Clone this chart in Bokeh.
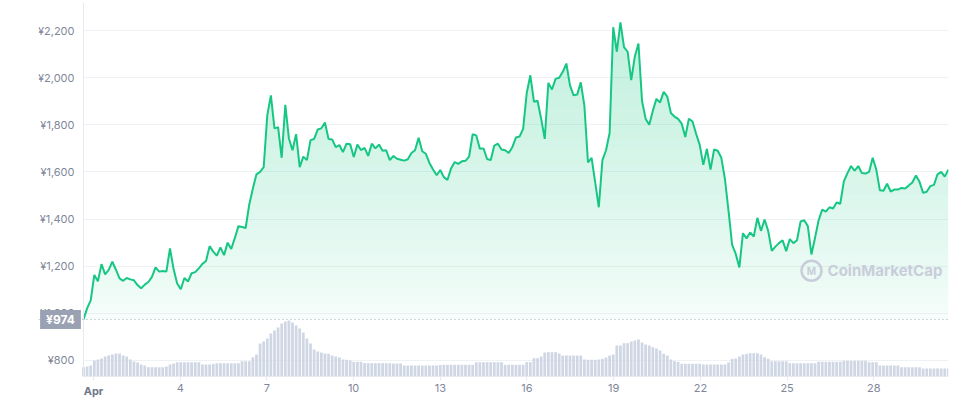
import numpy as np
from bokeh.plotting import figure
from bokeh.models import Range1d, FixedTicker, Span, Label, LinearAxis, BoxAnnotation
from bokeh.embed import file_html
from bokeh.resources import INLINE

# ---- data ----
# price in JPY, sampled roughly every 3 hours from Mar 31 ~16:00 to Apr 30 ~14:00
price = [
    974, 1021, 1055, 1163, 1136, 1209, 1165, 1184, 1219, 1185,
    1148, 1138, 1150, 1144, 1140, 1120, 1106, 1122, 1133, 1155,
    1195, 1177, 1180, 1177, 1275, 1188, 1127, 1102, 1150, 1135,
    1170, 1175, 1191, 1210, 1222, 1285, 1262, 1245, 1280, 1247,
    1300, 1273, 1320, 1370, 1366, 1362, 1462, 1530, 1590, 1600,
    1620, 1840, 1925, 1785, 1790, 1660, 1885, 1742, 1692, 1760,
    1620, 1665, 1650, 1735, 1740, 1780, 1785, 1810, 1740, 1738,
    1705, 1714, 1684, 1720, 1718, 1663, 1716, 1693, 1702, 1668,
    1720, 1700, 1716, 1690, 1692, 1650, 1668, 1656, 1652, 1648,
    1654, 1680, 1692, 1745, 1688, 1677, 1638, 1610, 1586, 1608,
    1578, 1566, 1615, 1642, 1634, 1645, 1647, 1665, 1760, 1755,
    1698, 1700, 1655, 1650, 1712, 1720, 1695, 1692, 1680, 1705,
    1746, 1750, 1783, 1935, 2010, 1898, 1902, 1826, 1740, 1978,
    1950, 1995, 2000, 2025, 2060, 1967, 1925, 1928, 1980, 1880,
    1640, 1660, 1556, 1450, 1650, 1692, 1765, 2214, 2110, 2235,
    2130, 2110, 1990, 2090, 2145, 1900, 1825, 1800, 1860, 1910,
    1895, 1940, 1920, 1850, 1835, 1825, 1805, 1748, 1826, 1814,
    1762, 1715, 1630, 1698, 1610, 1695, 1690, 1660, 1570, 1435,
    1290, 1252, 1195, 1340, 1318, 1343, 1326, 1405, 1350, 1398,
    1350, 1265, 1283, 1298, 1310, 1264, 1315, 1298, 1310, 1390,
    1395, 1370, 1250, 1320, 1395, 1440, 1432, 1450, 1445, 1470,
    1465, 1560, 1595, 1625, 1605, 1625, 1595, 1593, 1600, 1660,
    1610, 1522, 1520, 1550, 1517, 1525, 1525, 1532, 1530, 1542,
    1555, 1585, 1558, 1511, 1516, 1540, 1545, 1590, 1600, 1580,
    1610,
]
# 24h volume (arbitrary units), same timestamps
volume = [
    93, 100, 110, 160, 170, 180, 200, 210, 220, 230,
    230, 210, 200, 170, 150, 140, 120, 110, 93, 93,
    93, 93, 93, 100, 120, 130, 143, 143, 143, 143,
    143, 143, 143, 120, 120, 120, 125, 133, 133, 133,
    133, 133, 133, 133, 153, 153, 153, 193, 220, 330,
    350, 380, 430, 460, 490, 530, 550, 560, 540, 510,
    480, 440, 380, 330, 270, 250, 240, 230, 227, 210,
    200, 190, 170, 167, 160, 147, 147, 147, 133, 133,
    133, 133, 133, 133, 133, 133, 130, 130, 130, 110,
    110, 110, 110, 110, 110, 110, 110, 110, 110, 115,
    117, 117, 117, 117, 117, 117, 117, 117, 117, 143,
    143, 143, 143, 143, 143, 143, 143, 117, 117, 117,
    117, 117, 117, 143, 143, 183, 183, 200, 240, 243,
    243, 243, 230, 210, 210, 210, 210, 210, 210, 170,
    167, 167, 167, 170, 177, 190, 210, 220, 310, 310,
    333, 333, 350, 360, 370, 340, 320, 310, 293, 280,
    260, 227, 210, 170, 153, 145, 127, 127, 127, 127,
    127, 127, 120, 120, 120, 120, 120, 120, 120, 140,
    177, 180, 200, 220, 225, 233, 233, 233, 220, 193,
    177, 153, 153, 153, 153, 153, 133, 133, 133, 133,
    133, 133, 133, 133, 147, 147, 147, 147, 147, 147,
    147, 157, 157, 157, 157, 157, 157, 157, 143, 143,
    143, 110, 110, 110, 110, 110, 110, 93, 93, 93,
    93, 93, 93, 80, 80, 80, 80, 80, 80, 80,
    80,
]
first_day, last_day = -0.346, 29.58          # days since Apr 1 00:00
days = np.linspace(first_day, last_day, len(price))

x_ticks = [0, 3, 6, 9, 12, 15, 18, 21, 24, 27]
x_tick_labels = ["Apr", "4", "7", "10", "13", "16", "19", "22", "25", "28"]
y_ticks = [800, 1000, 1200, 1400, 1600, 1800, 2000, 2200]
y_tick_labels = ["¥800", "¥1,000", "¥1,200", "¥1,400", "¥1,600", "¥1,800", "¥2,000", "¥2,200"]
open_price = 974

GREEN = "#16c784"
AXIS_GREY = "#e6e9ee"
TEXT_GREY = "#7f879a"
FONT = "Inter"

X0, X1 = -1.903, 29.585      # visible day range (left part holds the price tag)
Y0, Y1 = 638.6, 2319         # visible price range (bottom part holds the date labels)
Y_AXIS = 732.1               # price level where the date axis sits

p = figure(width=950, height=398,
           x_range=Range1d(X0, X1), y_range=Range1d(Y0, Y1),
           output_backend="svg", toolbar_location=None,
           min_border_left=38, min_border_right=2, min_border_top=2, min_border_bottom=0)
p.extra_y_ranges = {"vol": Range1d(-220, 3740)}
p.outline_line_color = None
p.background_fill_color = "white"
p.border_fill_color = "white"

# grid
p.xgrid.visible = False
p.ygrid.grid_line_color = "#eff2f5"
p.ygrid.grid_line_width = 1
# keep grid lines out of the label gutter
p.add_layout(BoxAnnotation(right=first_day, fill_color="white", fill_alpha=1.0,
                           line_color=None, level="underlay"))

# gradient fill under the price line (translucent horizontal bands)
price_arr = np.array(price, dtype=float)
edges = np.linspace(open_price, 2300, 41)
for k in range(len(edges) - 1):
    mid = 0.5 * (edges[k] + edges[k + 1])
    frac = np.clip((mid - open_price) / (2200 - open_price), 0, 1.1)
    a = 0.03 + 0.23 * frac ** 0.75
    p.varea(x=days, y1=np.minimum(price_arr, edges[k]), y2=np.minimum(price_arr, edges[k + 1]),
            fill_color=GREEN, fill_alpha=float(a))

# volume bars
p.vbar(x=days, top=volume, bottom=0, width=0.095, y_range_name="vol",
       fill_color="#cfd6e4", line_color=None)

# dotted open price line
p.add_layout(Span(location=open_price, dimension="width", line_color="#a4abbd",
                  line_dash="1 3", line_width=1))

# price line
p.line(days, price, line_color=GREEN, line_width=2)

# y axis pinned at the start of the data
p.yaxis.fixed_location = first_day
p.yaxis.bounds = (Y_AXIS, Y1)
p.yaxis.ticker = FixedTicker(ticks=y_ticks)
p.yaxis.major_label_overrides = dict(zip(y_ticks, y_tick_labels))
p.yaxis.axis_line_color = AXIS_GREY
p.yaxis.major_tick_line_color = None
p.yaxis.minor_tick_line_color = None
p.yaxis.major_tick_out = 0
p.yaxis.major_label_standoff = 9
p.yaxis.major_label_text_font = FONT
p.yaxis.major_label_text_font_size = "11px"
p.yaxis.major_label_text_color = TEXT_GREY

# x axis pinned at the bottom of the volume pane
p.xaxis.fixed_location = Y_AXIS
p.xaxis.ticker = FixedTicker(ticks=x_ticks)
overrides = dict(zip(x_ticks, x_tick_labels))
overrides[x_ticks[0]] = ""
p.xaxis.major_label_overrides = overrides
p.xaxis.bounds = (first_day, X1)
p.xaxis.axis_line_color = AXIS_GREY
p.xaxis.major_tick_line_color = AXIS_GREY
p.xaxis.minor_tick_line_color = None
p.xaxis.major_tick_out = 4
p.xaxis.major_tick_in = 0
p.xaxis.major_label_standoff = 4
p.xaxis.major_label_text_font = FONT
p.xaxis.major_label_text_font_size = "11px"
p.xaxis.major_label_text_color = TEXT_GREY

# bold month label on its own pinned axis
month_axis = LinearAxis(fixed_location=Y_AXIS, ticker=FixedTicker(ticks=[x_ticks[0]]),
                        major_label_overrides={x_ticks[0]: x_tick_labels[0]},
                        axis_line_color=None, major_tick_line_color=None,
                        minor_tick_line_color=None, major_tick_out=4, major_tick_in=0,
                        major_label_standoff=4, major_label_text_font=FONT,
                        major_label_text_font_size="11px", major_label_text_font_style="bold",
                        major_label_text_color="#6f778b")
p.add_layout(month_axis, "below")

# open price tag
p.add_layout(Label(x=-1.142, y=open_price, text="¥%d" % open_price, text_align="center",
                   text_baseline="middle", text_font=FONT, text_font_size="12px",
                   text_font_style="bold", text_color="white",
                   background_fill_color="#9aa1b3", padding=(6, 2)))

# watermark
p.scatter(x=[24.845], y=[1181], size=20, marker="circle", fill_color=None,
          line_color="#c9cddb", line_width=2.5)
p.add_layout(Label(x=24.845, y=1181, text="M", text_align="center", text_baseline="middle",
                   text_font=FONT, text_font_size="10px", text_font_style="bold",
                   text_color="#c9cddb"))
p.add_layout(Label(x=25.4, y=1181, text="CoinMarketCap", text_align="left",
                   text_baseline="middle", text_font=FONT, text_font_size="15px",
                   text_font_style="bold", text_color="#c9cddb"))

open("out.html", "w").write(file_html(p, INLINE))
